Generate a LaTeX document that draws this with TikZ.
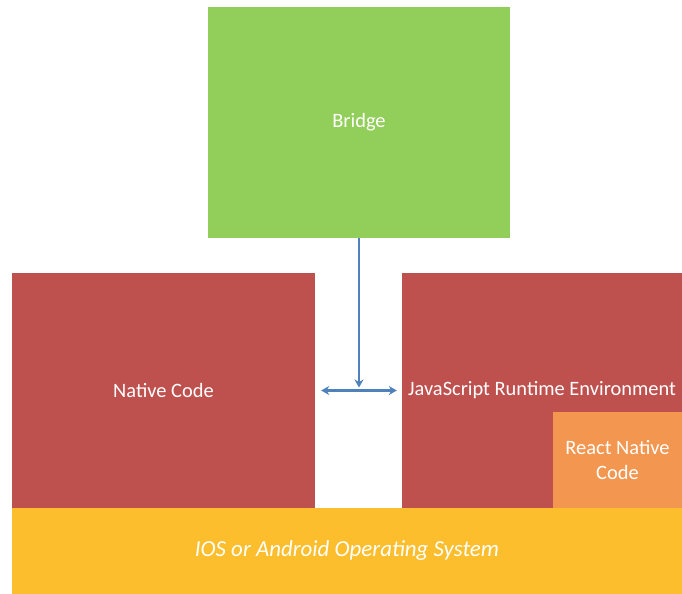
\documentclass[tikz,border=0pt]{standalone}
\usepackage{fontspec}
\setmainfont{Carlito}
\usetikzlibrary{arrows.meta}
\definecolor{bridgegreen}{RGB}{146,206,90}
\definecolor{layerred}{RGB}{190,80,78}
\definecolor{rnorange}{RGB}{243,150,80}
\definecolor{osyellow}{RGB}{253,190,46}
\definecolor{linkblue}{RGB}{79,129,189}

\begin{document}
\begin{tikzpicture}[x=1bp, y=-1bp,
  block/.style={rectangle, inner sep=0pt, text=white, align=center,
    font=\fontsize{20.5}{25}\selectfont},
  link/.style={linkblue, line width=2.2bp, >={Stealth[length=8bp, width=9bp]}}]
  \useasboundingbox (0,0) rectangle (682,594);
  \node[block, fill=bridgegreen, minimum width=302bp, minimum height=231bp] (bridge) at (359,122.5) {Bridge};
  \node[block, fill=layerred, minimum width=303bp, minimum height=235bp] (native) at (163.5,390.5) {Native Code};
  \node[block, fill=layerred, minimum width=280bp, minimum height=235bp] (js) at (542,390.5) {JavaScript Runtime Environment};
  \node[block, fill=rnorange, minimum width=129bp, minimum height=96bp] (rn) at (617.5,460) {React Native\\Code};
  \node[block, fill=osyellow, minimum width=670bp, minimum height=86bp,
    font=\fontsize{23}{27}\selectfont\itshape] (os) at (347,551) {IOS or Android Operating System};
  \path (native.east) -- (js.west) coordinate[midway] (mid);
  \draw[link, ->, shorten >=3bp] (bridge.south) -- (bridge.south |- mid);
  \draw[link, <->, shorten <=6bp, shorten >=5bp] (native.east) -- (js.west);
\end{tikzpicture}
\end{document}
